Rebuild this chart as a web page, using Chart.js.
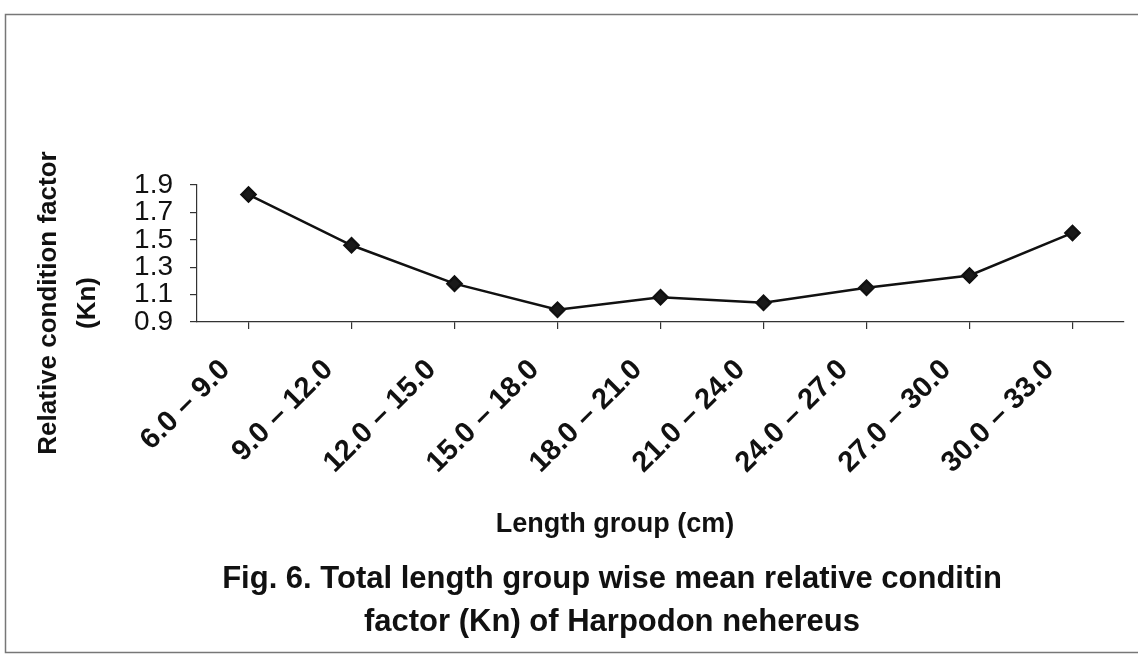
<!DOCTYPE html>
<html>
<head>
<meta charset="utf-8">
<title>Fig. 6 Kn by length group</title>
<script src="https://cdn.jsdelivr.net/npm/chart.js@4.4.1/dist/chart.umd.min.js"></script>
<style>
  html, body { margin: 0; padding: 0; background: #fff; }
  #wrap { width: 1138px; height: 664px; position: relative; }
</style>
</head>
<body>
<div id="wrap"><canvas id="knChart"></canvas></div>
<script>
// --------------------------
// data
// --------------------------
const lengthGroups = [
  "6.0 – 9.0", "9.0 – 12.0", "12.0 – 15.0", "15.0 – 18.0", "18.0 – 21.0",
  "21.0 – 24.0", "24.0 – 27.0", "27.0 – 30.0", "30.0 – 33.0"
];
const knValues = [1.83, 1.46, 1.18, 0.99, 1.08, 1.04, 1.15, 1.24, 1.55];
const yTicks = [0.9, 1.1, 1.3, 1.5, 1.7, 1.9];

const xTitle = "Length group (cm)";
const yTitle = ["Relative condition factor", "(Kn)"];
const caption = [
  "Fig. 6. Total length group wise mean relative conditin",
  "factor (Kn) of Harpodon nehereus"
];

const FONT = "'Liberation Sans', Arial, sans-serif";
const INK = "#111";

// рамка вокруг рисунка (как на скане)
const framePlugin = {
  id: "frame",
  beforeDraw(chart) {
    const { ctx } = chart;
    ctx.save();
    ctx.fillStyle = "#fff";
    ctx.fillRect(0, 0, chart.width, chart.height);
    ctx.strokeStyle = "#777";
    ctx.lineWidth = 1.5;
    ctx.strokeRect(5.5, 14.5, chart.width + 10, 638);
    ctx.restore();
  }
};

// подписи осей и подпись рисунка рисуем сами — в оригинале они сдвинуты
const textPlugin = {
  id: "figText",
  afterDraw(chart) {
    const { ctx } = chart;
    ctx.save();
    ctx.fillStyle = INK;
    ctx.textAlign = "center";
    ctx.textBaseline = "middle";

    ctx.font = `bold 27px ${FONT}`;
    ctx.fillText(xTitle, 615, 525);

    ctx.font = `bold 31px ${FONT}`;
    ctx.fillText(caption[0], 612, 579);
    ctx.fillText(caption[1], 612, 622);

    ctx.font = `bold 26px ${FONT}`;
    ctx.translate(0, 303);
    ctx.rotate(-Math.PI / 2);
    ctx.fillText(yTitle[0], 0, 49);
    ctx.fillText(yTitle[1], 0, 88);
    ctx.restore();
  }
};

// --------------------------
// chart
// --------------------------
function createKnChart() {
  const canvas = document.getElementById("knChart");
  canvas.width = 1138;
  canvas.height = 664;

  return new Chart(canvas.getContext("2d"), {
    type: "line",
    data: {
      labels: lengthGroups,
      datasets: [
        {
          label: "Kn",
          data: knValues,
          borderColor: INK,
          borderWidth: 2.5,
          pointStyle: "rectRot",
          pointRadius: 7,
          pointBackgroundColor: "#1a1a1a",
          pointBorderColor: INK,
          tension: 0,
          fill: false
        }
      ]
    },
    options: {
      responsive: false,
      animation: false,
      layout: { padding: { top: 185, right: 14, bottom: 0, left: 0 } },
      plugins: {
        legend: { display: false },
        tooltip: { enabled: false },
        title: { display: false }
      },
      scales: {
        x: {
          offset: true,
          afterFit: s => { s.height = 664 - 322; },
          grid: { drawOnChartArea: false, tickLength: 7, color: "#333", lineWidth: 1.2 },
          border: { color: "#333", width: 1.2 },
          ticks: {
            autoSkip: false,
            minRotation: 45,
            maxRotation: 45,
            padding: 24,
            labelOffset: -23,
            color: INK,
            font: { family: FONT, size: 29, weight: "bold" }
          },
          title: { display: false }
        },
        y: {
          min: 0.9,
          max: 1.9,
          afterFit: s => { s.width = 197; },
          afterBuildTicks: s => { s.ticks = yTicks.map(v => ({ value: v })); },
          grid: { drawOnChartArea: false, tickLength: 7, color: "#333", lineWidth: 1.2 },
          border: { color: "#333", width: 1.2 },
          ticks: {
            autoSkip: false,
            padding: 17,
            color: INK,
            font: { family: FONT, size: 28 },
            callback: v => Number(v).toFixed(1)
          },
          title: { display: false }
        }
      }
    },
    plugins: [framePlugin, textPlugin]
  });
}

createKnChart();
</script>
</body>
</html>
